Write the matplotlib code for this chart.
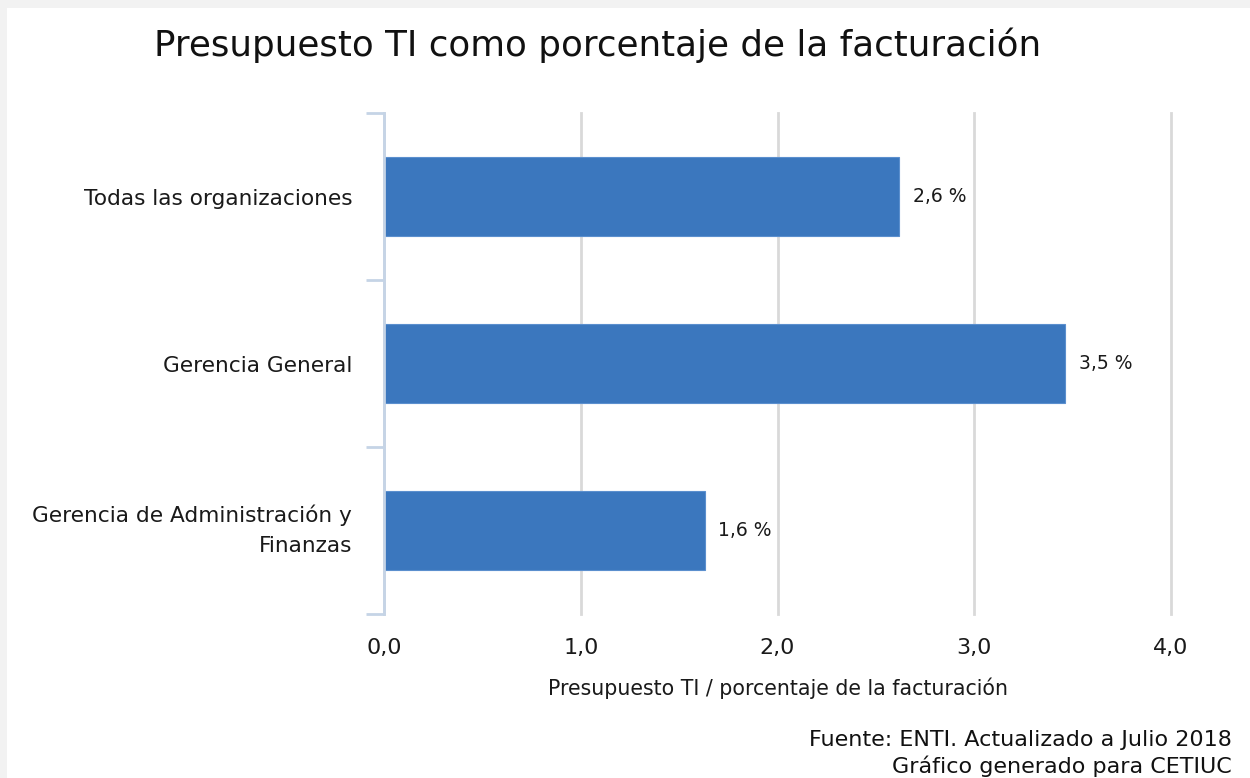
import matplotlib
matplotlib.use("Agg")
import matplotlib.pyplot as plt
from matplotlib.patches import Rectangle
import numpy as np

categories = ["Todas las organizaciones", "Gerencia General", "Gerencia de Administración y\nFinanzas"]
values = [2.62, 3.46, 1.63]
labels = ["2,6 %", "3,5 %", "1,6 %"]
xticks = [0.0, 1.0, 2.0, 3.0, 4.0]
xtick_labels = ["0,0", "1,0", "2,0", "3,0", "4,0"]

plt.rcParams['font.family'] = ['DejaVu Sans']

W, H = 1250, 778
fig = plt.figure(figsize=(W / 100, H / 100), dpi=100)
fig.patch.set_facecolor('#f2f2f2')
bg = Rectangle((7 / W, 0), 1, 1 - 8 / H, transform=fig.transFigure,
               facecolor='white', edgecolor='none', zorder=-10)
fig.patches.append(bg)

ax_left, ax_right, ax_top, ax_bottom = 384, 1171, 113, 614
ax = fig.add_axes([ax_left / W, 1 - ax_bottom / H, (ax_right - ax_left) / W, (ax_bottom - ax_top) / H])
ax.set_facecolor('none')

y = list(range(len(categories)))
ax.barh(y, values, height=0.47, color='#3b77be', edgecolor='#5b8fce', linewidth=0.8, zorder=3)
ax.set_ylim(len(categories) - 0.5, -0.5)
ax.set_xlim(0, 4.0)

for yi, v, lab in zip(y, values, labels):
    ax.text(v + 0.07, yi, lab, va='center', ha='left', fontsize=13.5, color='#1a1a1a', zorder=4)

ax.set_xticks(xticks)
ax.set_xticklabels(xtick_labels, fontsize=16, color='#1a1a1a')
ax.tick_params(axis='x', length=0, pad=17)
ax.grid(axis='x', color='#d9d9d9', linewidth=2, zorder=0)
for gl in ax.get_xgridlines():
    gl.set_clip_on(False)

ax.set_yticks(y)
ax.set_yticklabels(categories, fontsize=15.6, color='#1a1a1a')
ax.tick_params(axis='y', which='major', length=0, pad=23)
for lab in ax.get_yticklabels():
    lab.set_horizontalalignment('right')
    lab.set_multialignment('right')
    lab.set_linespacing(1.65)
    if "\n" in lab.get_text():
        lab.set_verticalalignment('center')

bounds = np.arange(-0.5, len(categories), 1.0)
ax.set_yticks(bounds, minor=True)
ax.tick_params(axis='y', which='minor', length=13, width=2, color='#c5d4e6')

for s in ['top', 'right', 'bottom']:
    ax.spines[s].set_visible(False)
ax.spines['left'].set_color('#c5d4e6')
ax.spines['left'].set_linewidth(2)
ax.spines['left'].set_zorder(5)

ax.set_xlabel("Presupuesto TI / porcentaje de la facturación", fontsize=14.8, color='#1a1a1a', labelpad=14.5)

fig.text(598 / W, 1 - 45 / H, "Presupuesto TI como porcentaje de la facturación",
         ha='center', va='center', fontsize=25.7, color='#111111')
fig.text(1232 / W, 1 - 740 / H, "Fuente: ENTI. Actualizado a Julio 2018",
         ha='right', va='center', fontsize=16, color='#111111')
fig.text(1232 / W, 1 - 766 / H, "Gráfico generado para CETIUC",
         ha='right', va='center', fontsize=16, color='#111111')

fig.savefig("out.png", dpi=100, facecolor=fig.get_facecolor())
